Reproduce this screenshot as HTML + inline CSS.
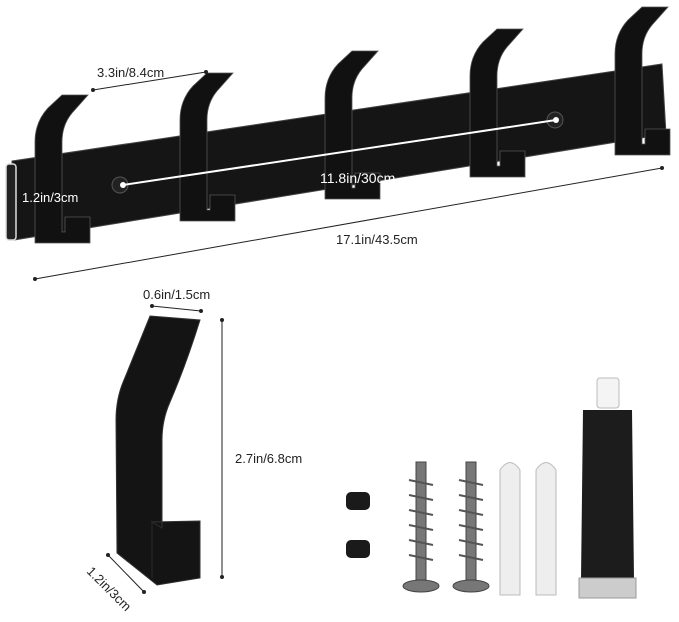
<!DOCTYPE html>
<html><head><style>
html,body{margin:0;padding:0;background:#fff;}
svg{display:block}
text{font-family:"Liberation Sans",sans-serif;fill:#222;font-size:13px}
</style></head><body>
<svg width="679" height="622" viewBox="0 0 679 622" xmlns="http://www.w3.org/2000/svg">
<defs>
<g id="hook">
<path d="M35,243 L35,142 Q35,122 48,108 L62,95 L88,95 L72,113 Q62,125 62,142 L62,232 L65,232 L65,217 L90,217 L90,243 Z" fill="#111" stroke="#555" stroke-width="0.8"/>
</g>
</defs>
<polygon points="12,161 662,64 666,134 14,240" fill="#151515" stroke="#444" stroke-width="1"/>
<rect x="6" y="164" width="10" height="76" rx="3" fill="#222" stroke="#ddd" stroke-width="1.5"/>
<use href="#hook"/>
<use href="#hook" transform="translate(145,-22)"/>
<use href="#hook" transform="translate(290,-44)"/>
<use href="#hook" transform="translate(435,-66)"/>
<use href="#hook" transform="translate(580,-88)"/>
<circle cx="120" cy="185" r="8" fill="#222" stroke="#555"/>
<circle cx="555" cy="120" r="8" fill="#222" stroke="#555"/>
<line x1="123" y1="185" x2="556" y2="120" stroke="#fff" stroke-width="2"/>
<circle cx="123" cy="185" r="3" fill="#fff"/><circle cx="556" cy="120" r="3" fill="#fff"/>
<text x="320" y="183" style="fill:#fff;font-size:14px">11.8in/30cm</text>
<text x="22" y="202" style="fill:#fff;font-size:13px">1.2in/3cm</text>
<line x1="93" y1="90" x2="206" y2="72" stroke="#222" stroke-width="1"/>
<circle cx="93" cy="90" r="2" fill="#222"/><circle cx="206" cy="72" r="2" fill="#222"/>
<text x="97" y="77">3.3in/8.4cm</text>
<line x1="35" y1="279" x2="662" y2="168" stroke="#222" stroke-width="1"/>
<circle cx="35" cy="279" r="2" fill="#222"/><circle cx="662" cy="168" r="2" fill="#222"/>
<text x="336" y="244">17.1in/43.5cm</text>
<!-- single hook -->
<path d="M150,316 L200,320 Q186,365 170,402 Q162,420 162,440 L162,528 L152,522 L200,521 L200,578 L157,585 L117,553 L116,420 Q116,398 124,380 Z" fill="#141414" stroke="#333" stroke-width="1"/>
<path d="M162,528 L152,522 L152,578" fill="none" stroke="#2a2a2a"/>
<line x1="152" y1="306" x2="201" y2="311" stroke="#222"/>
<circle cx="152" cy="306" r="2" fill="#222"/><circle cx="201" cy="311" r="2" fill="#222"/>
<text x="143" y="299">0.6in/1.5cm</text>
<line x1="222" y1="320" x2="222" y2="577" stroke="#222"/>
<circle cx="222" cy="320" r="2" fill="#222"/><circle cx="222" cy="577" r="2" fill="#222"/>
<text x="235" y="463">2.7in/6.8cm</text>
<line x1="108" y1="555" x2="144" y2="592" stroke="#222"/>
<circle cx="108" cy="555" r="2" fill="#222"/><circle cx="144" cy="592" r="2" fill="#222"/>
<text x="86" y="572" transform="rotate(45 86 572)">1.2in/3cm</text>
<!-- hardware -->
<rect x="346" y="492" width="24" height="18" rx="5" fill="#1a1a1a"/>
<rect x="346" y="540" width="24" height="18" rx="5" fill="#1a1a1a"/>
<g fill="#777" stroke="#444" stroke-width="1">
<rect x="416" y="462" width="10" height="118"/>
<ellipse cx="421" cy="586" rx="18" ry="6"/>
<rect x="466" y="462" width="10" height="118"/>
<ellipse cx="471" cy="586" rx="18" ry="6"/>
</g>
<path d="M409,480 L433,485 M409,495 L433,500 M409,510 L433,515 M409,525 L433,530 M409,540 L433,545 M409,555 L433,560 M459,480 L483,485 M459,495 L483,500 M459,510 L483,515 M459,525 L483,530 M459,540 L483,545 M459,555 L483,560" stroke="#555" stroke-width="2"/>
<path d="M500,470 Q510,455 520,470 L520,595 L500,595 Z" fill="#eee" stroke="#bbb"/>
<path d="M536,470 Q546,455 556,470 L556,595 L536,595 Z" fill="#eee" stroke="#bbb"/>
<rect x="597" y="378" width="22" height="30" rx="3" fill="#f4f4f4" stroke="#bbb"/>
<path d="M583,410 L632,410 L634,580 L581,580 Z" fill="#1c1c1c"/>
<rect x="579" y="578" width="57" height="20" fill="#ccc" stroke="#999"/>
</svg>
</body></html>
